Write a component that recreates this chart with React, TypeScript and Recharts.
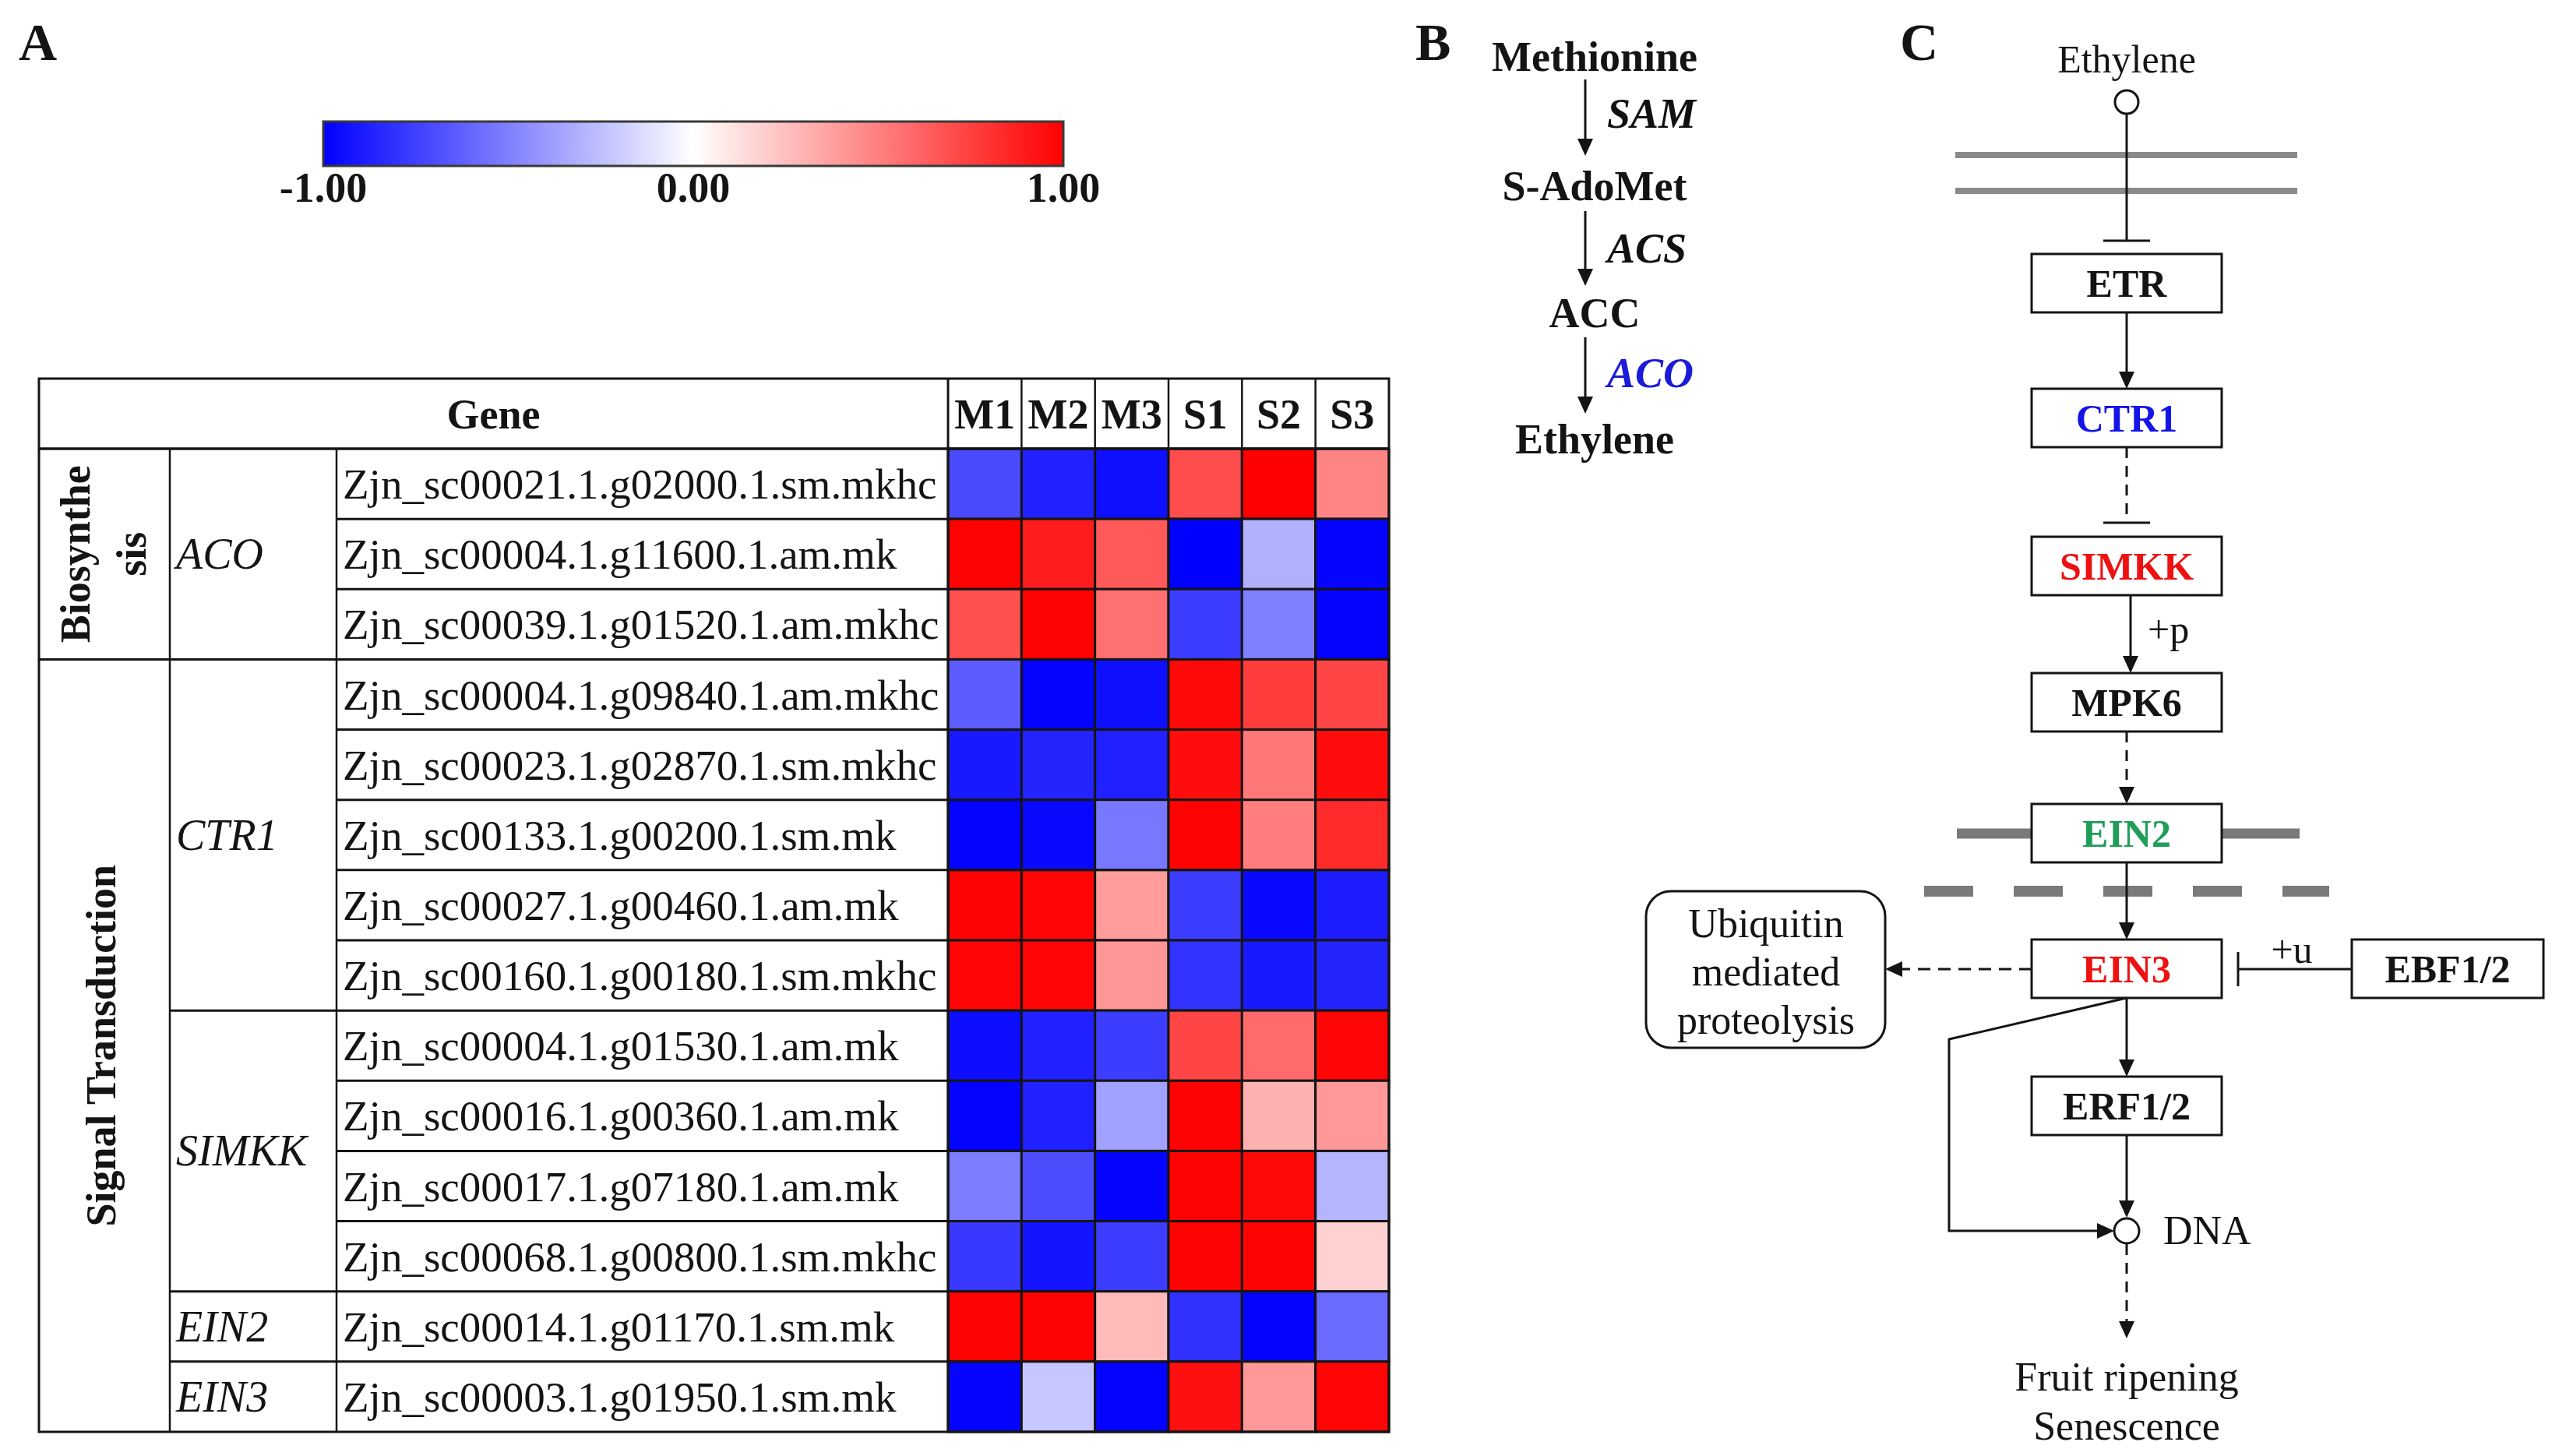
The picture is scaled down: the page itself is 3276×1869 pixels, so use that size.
import React from "react"
import { ScatterChart, Scatter, XAxis, YAxis } from "recharts"

const samples = ["M1", "M2", "M3", "S1", "S2", "S3"]

const genes = [
  "Zjn_sc00021.1.g02000.1.sm.mkhc",
  "Zjn_sc00004.1.g11600.1.am.mk",
  "Zjn_sc00039.1.g01520.1.am.mkhc",
  "Zjn_sc00004.1.g09840.1.am.mkhc",
  "Zjn_sc00023.1.g02870.1.sm.mkhc",
  "Zjn_sc00133.1.g00200.1.sm.mk",
  "Zjn_sc00027.1.g00460.1.am.mk",
  "Zjn_sc00160.1.g00180.1.sm.mkhc",
  "Zjn_sc00004.1.g01530.1.am.mk",
  "Zjn_sc00016.1.g00360.1.am.mk",
  "Zjn_sc00017.1.g07180.1.am.mk",
  "Zjn_sc00068.1.g00800.1.sm.mkhc",
  "Zjn_sc00014.1.g01170.1.sm.mk",
  "Zjn_sc00003.1.g01950.1.sm.mk",
]

// relative expression per sample, one value per gene (same order as genes)
const m1 = [-0.71, 0.99, 0.69, -0.64, -0.9, -0.99, 0.99, 0.98, -0.95, -0.99, -0.51, -0.78, 0.99, -0.98]
const m2 = [-0.87, 0.89, 0.99, -0.99, -0.86, -0.97, 0.98, 0.98, -0.87, -0.87, -0.7, -0.92, 0.99, -0.22]
const m3 = [-0.94, 0.65, 0.56, -0.94, -0.87, -0.53, 0.39, 0.41, -0.76, -0.37, -0.98, -0.76, 0.27, -0.99]
const s1 = [0.7, -1, -0.76, 0.97, 0.95, 0.99, -0.76, -0.8, 0.73, 0.99, 0.99, 0.99, -0.81, 0.94]
const s2 = [1, -0.31, -0.5, 0.76, 0.53, 0.51, -0.97, -0.9, 0.58, 0.31, 0.97, 0.99, -0.99, 0.4]
const s3 = [0.48, -0.98, -0.99, 0.73, 0.95, 0.83, -0.89, -0.86, 0.98, 0.4, -0.29, 0.18, -0.58, 0.98]

const familyNames = ["ACO", "CTR1", "SIMKK", "EIN2", "EIN3"]
const familySizes = [3, 5, 4, 1, 1]
const groupNames = [["Biosynthe", "sis"], ["Signal Transduction"]]
const groupSizes = [3, 11]
const colorbarTicks = [-1, 0, 1]

const pathwayCompounds = ["Methionine", "S-AdoMet", "ACC", "Ethylene"]
const pathwayEnzymes = ["SAM", "ACS", "ACO"]
const pathwayEnzymeColors = ["#111", "#111", "#1a1ad8"]

const columns = [m1, m2, m3, s1, s2, s3]
const cells = genes.flatMap((gene, i) =>
  samples.map((sample, j) => ({ gene, sample, value: columns[j][i] }))
)

const FONT = "'Liberation Serif', 'Times New Roman', serif"
const INK = "#141414"

// table geometry
const TABLE_L = 50
const TABLE_T = 486
const COL_FAM = 218
const COL_GENE = 432
const HEAT_L = 1217
const HEAT_W = 566
const HEADER_H = 90
const BODY_H = 1262
const CELL_W = HEAT_W / samples.length
const CELL_H = BODY_H / genes.length
const ROW_T = TABLE_T + HEADER_H
const TABLE_R = HEAT_L + HEAT_W
const TABLE_B = ROW_T + BODY_H
const rowY = (k: number) => ROW_T + k * CELL_H

function heatColor(v: number) {
  const c = Math.round(255 * (1 - Math.min(1, Math.abs(v))))
  return v >= 0 ? `rgb(255,${c},${c})` : `rgb(${c},${c},255)`
}

function HeatCell(props: any) {
  const { cx, cy, payload } = props
  return (
    <rect
      x={cx - CELL_W / 2}
      y={cy - CELL_H / 2}
      width={CELL_W}
      height={CELL_H}
      fill={heatColor(payload.value)}
      stroke="#151515"
      strokeWidth={3}
    />
  )
}

function HeaderTick(props: any) {
  const { x, payload } = props
  return (
    <text x={x} y={HEADER_H / 2 + 19} textAnchor="middle" fontFamily={FONT} fontWeight="bold" fontSize={54} fill={INK}>
      {payload.value}
    </text>
  )
}

function GeneTick(props: any) {
  const { y, payload } = props
  return (
    <text x={COL_GENE - TABLE_L + 8} y={y + 19} textAnchor="start" fontFamily={FONT} fontSize={55} fill={INK}>
      {payload.value}
    </text>
  )
}

function VArrow({ x, y1, y2, dashed }: { x: number; y1: number; y2: number; dashed?: boolean }) {
  return (
    <g>
      <line x1={x} y1={y1} x2={x} y2={y2 - 16} stroke={INK} strokeWidth={3} strokeDasharray={dashed ? "14 10" : undefined} />
      <polygon points={`${x - 10},${y2 - 22} ${x + 10},${y2 - 22} ${x},${y2}`} fill={INK} />
    </g>
  )
}

function Box({ x, y, w, label, color }: { x: number; y: number; w: number; label: string; color: string }) {
  return (
    <g>
      <rect x={x} y={y} width={w} height={75} fill="#fff" stroke={INK} strokeWidth={3} />
      <text x={x + w / 2} y={y + 55} textAnchor="middle" fontFamily={FONT} fontWeight="bold" fontSize={50} fill={color}>
        {label}
      </text>
    </g>
  )
}

function TableFrame() {
  const famBounds: number[] = []
  let acc = 0
  familySizes.forEach((n) => {
    acc += n
    famBounds.push(acc)
  })
  const grpBounds: number[] = []
  acc = 0
  groupSizes.forEach((n) => {
    acc += n
    grpBounds.push(acc)
  })
  let famStart = 0
  let grpStart = 0
  return (
    <g fontFamily={FONT} fill={INK}>
      <rect x={TABLE_L} y={TABLE_T} width={TABLE_R - TABLE_L} height={TABLE_B - TABLE_T} fill="none" stroke={INK} strokeWidth={3} />
      <line x1={TABLE_L} y1={ROW_T} x2={TABLE_R} y2={ROW_T} stroke={INK} strokeWidth={3.5} />
      <line x1={COL_FAM} y1={ROW_T} x2={COL_FAM} y2={TABLE_B} stroke={INK} strokeWidth={2.5} />
      <line x1={COL_GENE} y1={ROW_T} x2={COL_GENE} y2={TABLE_B} stroke={INK} strokeWidth={2.5} />
      <line x1={HEAT_L} y1={TABLE_T} x2={HEAT_L} y2={TABLE_B} stroke={INK} strokeWidth={3} />
      {samples.slice(1).map((_, k) => (
        <line key={k} x1={HEAT_L + (k + 1) * CELL_W} y1={TABLE_T} x2={HEAT_L + (k + 1) * CELL_W} y2={ROW_T} stroke={INK} strokeWidth={2.5} />
      ))}
      {genes.slice(1).map((_, k) => (
        <line key={k} x1={COL_GENE} y1={rowY(k + 1)} x2={HEAT_L} y2={rowY(k + 1)} stroke={INK} strokeWidth={3} />
      ))}
      {famBounds.slice(0, -1).map((b) => (
        <line key={b} x1={COL_FAM} y1={rowY(b)} x2={COL_GENE} y2={rowY(b)} stroke={INK} strokeWidth={3} />
      ))}
      {grpBounds.slice(0, -1).map((b) => (
        <line key={b} x1={TABLE_L} y1={rowY(b)} x2={COL_FAM} y2={rowY(b)} stroke={INK} strokeWidth={3} />
      ))}
      <text x={(TABLE_L + HEAT_L) / 2} y={TABLE_T + HEADER_H / 2 + 19} textAnchor="middle" fontWeight="bold" fontSize={54}>
        Gene
      </text>
      {familyNames.map((name, i) => {
        const cy = rowY(famStart + familySizes[i] / 2)
        famStart += familySizes[i]
        return (
          <text key={name} x={COL_FAM + 8} y={cy + 19} fontStyle="italic" fontSize={56}>
            {name}
          </text>
        )
      })}
      {groupNames.map((lines, i) => {
        const cy = rowY(grpStart + groupSizes[i] / 2)
        grpStart += groupSizes[i]
        const base = lines.length > 1 ? 115 : 148
        return lines.map((line, k) => (
          <text
            key={line}
            x={base + k * 72}
            y={cy}
            textAnchor="middle"
            fontWeight="bold"
            fontSize={54}
            transform={`rotate(-90 ${base + k * 72} ${cy})`}
          >
            {line}
          </text>
        ))
      })}
    </g>
  )
}

function Colorbar() {
  const x0 = 415
  const w = 950
  return (
    <g fontFamily={FONT}>
      <defs>
        <linearGradient id="cbar" x1="0" x2="1" y1="0" y2="0">
          <stop offset="0" stopColor="#0000ff" />
          <stop offset="0.5" stopColor="#ffffff" />
          <stop offset="1" stopColor="#ff0000" />
        </linearGradient>
      </defs>
      <rect x={x0} y={156} width={w} height={57} fill="url(#cbar)" stroke="#3a3a3a" strokeWidth={3} />
      {colorbarTicks.map((t) => (
        <text key={t} x={x0 + ((t + 1) / 2) * w} y={259} textAnchor="middle" fontWeight="bold" fontSize={54} fill={INK}>
          {t.toFixed(2)}
        </text>
      ))}
    </g>
  )
}

function PanelB() {
  const cx = 2047
  const ys = [91, 257, 420, 582]
  const arrows = [[102, 200], [271, 367], [433, 531]]
  const enzymeY = [164, 337, 497]
  return (
    <g fontFamily={FONT}>
      {pathwayCompounds.map((c, i) => (
        <text key={c} x={cx} y={ys[i]} textAnchor="middle" fontWeight="bold" fontSize={54} fill={INK}>
          {c}
        </text>
      ))}
      {arrows.map(([a, b], i) => (
        <VArrow key={i} x={2035} y1={a} y2={b} />
      ))}
      {pathwayEnzymes.map((e, i) => (
        <text key={e} x={2063} y={enzymeY[i]} fontStyle="italic" fontWeight="bold" fontSize={54} fill={pathwayEnzymeColors[i]}>
          {e}
        </text>
      ))}
    </g>
  )
}

function PanelC() {
  const bx = 2608
  const bw = 244
  const cx = bx + bw / 2
  return (
    <g fontFamily={FONT}>
      <text x={cx} y={93} textAnchor="middle" fontSize={50} fill={INK}>Ethylene</text>
      <line x1={2510} y1={199} x2={2949} y2={199} stroke="#8a8a8a" strokeWidth={8} />
      <line x1={2510} y1={245} x2={2949} y2={245} stroke="#8a8a8a" strokeWidth={8} />
      <line x1={cx} y1={146} x2={cx} y2={309} stroke={INK} strokeWidth={3} />
      <circle cx={cx} cy={131} r={15} fill="#fff" stroke={INK} strokeWidth={3} />
      <line x1={cx - 30} y1={309} x2={cx + 30} y2={309} stroke={INK} strokeWidth={3} />
      <Box x={bx} y={326} w={bw} label="ETR" color={INK} />
      <VArrow x={cx} y1={401} y2={499} />
      <Box x={bx} y={499} w={bw} label="CTR1" color="#1414e6" />
      <line x1={cx} y1={574} x2={cx} y2={671} stroke={INK} strokeWidth={3} strokeDasharray="14 10" />
      <line x1={cx - 30} y1={671} x2={cx + 30} y2={671} stroke={INK} strokeWidth={3} />
      <Box x={bx} y={689} w={bw} label="SIMKK" color="#ee1111" />
      <VArrow x={cx + 5} y1={764} y2={864} />
      <text x={2757} y={825} fontSize={50} fill={INK}>+p</text>
      <Box x={bx} y={864} w={bw} label="MPK6" color={INK} />
      <VArrow x={cx} y1={939} y2={1032} dashed />
      <line x1={2512} y1={1070} x2={bx} y2={1070} stroke="#7a7a7a" strokeWidth={13} />
      <line x1={bx + bw} y1={1070} x2={2952} y2={1070} stroke="#7a7a7a" strokeWidth={13} />
      <Box x={bx} y={1032} w={bw} label="EIN2" color="#1f9e58" />
      <line x1={2470} y1={1144} x2={2990} y2={1144} stroke="#7a7a7a" strokeWidth={14} strokeDasharray="63 52" />
      <VArrow x={cx} y1={1107} y2={1206} />
      <Box x={bx} y={1206} w={bw} label="EIN3" color="#ee1111" />
      <line x1={bx} y1={1244} x2={2440} y2={1244} stroke={INK} strokeWidth={3} strokeDasharray="16 10" />
      <polygon points={`2420,1244 2442,1234 2442,1254`} fill={INK} />
      <rect x={2113} y={1144} width={307} height={201} rx={32} fill="#fff" stroke={INK} strokeWidth={3} />
      {["Ubiquitin", "mediated", "proteolysis"].map((t, i) => (
        <text key={t} x={2267} y={1203 + i * 62} textAnchor="middle" fontSize={52} fill={INK}>{t}</text>
      ))}
      <line x1={2873} y1={1244} x2={3019} y2={1244} stroke={INK} strokeWidth={3} />
      <line x1={2873} y1={1222} x2={2873} y2={1266} stroke={INK} strokeWidth={3} />
      <text x={2942} y={1236} textAnchor="middle" fontSize={50} fill={INK}>+u</text>
      <Box x={3019} y={1206} w={246} label="EBF1/2" color={INK} />
      <VArrow x={cx} y1={1281} y2={1382} />
      <Box x={bx} y={1382} w={bw} label="ERF1/2" color={INK} />
      <polyline points={`${cx},1281 2502,1334 2502,1580 2696,1580`} fill="none" stroke={INK} strokeWidth={3} />
      <polygon points={`2714,1580 2692,1570 2692,1590`} fill={INK} />
      <VArrow x={cx} y1={1457} y2={1563} />
      <circle cx={cx} cy={1580} r={16} fill="#fff" stroke={INK} strokeWidth={3} />
      <text x={2777} y={1597} fontSize={52} fill={INK}>DNA</text>
      <VArrow x={cx} y1={1597} y2={1718} dashed />
      <text x={cx} y={1785} textAnchor="middle" fontSize={52} fill={INK}>Fruit ripening</text>
      <text x={cx} y={1848} textAnchor="middle" fontSize={52} fill={INK}>Senescence</text>
    </g>
  )
}

export default function App() {
  return (
    <div style={{ position: "relative", width: 3276, height: 1869, background: "#fff", overflow: "hidden" }}>
      <style>{"body{margin:0}"}</style>
      <div style={{ position: "absolute", left: TABLE_L, top: TABLE_T }}>
        <ScatterChart
          width={HEAT_L - TABLE_L + HEAT_W + 6}
          height={HEADER_H + BODY_H + 4}
          margin={{ top: 0, right: 6, bottom: 4, left: 0 }}
        >
          <XAxis
            type="category"
            dataKey="sample"
            orientation="top"
            height={HEADER_H}
            allowDuplicatedCategory={false}
            axisLine={false}
            tickLine={false}
            interval={0}
            tick={<HeaderTick />}
          />
          <YAxis
            type="category"
            dataKey="gene"
            width={HEAT_L - TABLE_L}
            allowDuplicatedCategory={false}
            reversed
            axisLine={false}
            tickLine={false}
            interval={0}
            tick={<GeneTick />}
          />
          <Scatter data={cells} shape={<HeatCell />} isAnimationActive={false} />
        </ScatterChart>
      </div>
      <svg width={3276} height={1869} style={{ position: "absolute", left: 0, top: 0, pointerEvents: "none" }}>
        <g fontFamily={FONT} fontWeight="bold" fontSize={68} fill={INK}>
          <text x={24} y={77}>A</text>
          <text x={1817} y={77}>B</text>
          <text x={2439} y={77}>C</text>
        </g>
        <Colorbar />
        <TableFrame />
        <PanelB />
        <PanelC />
      </svg>
    </div>
  )
}
